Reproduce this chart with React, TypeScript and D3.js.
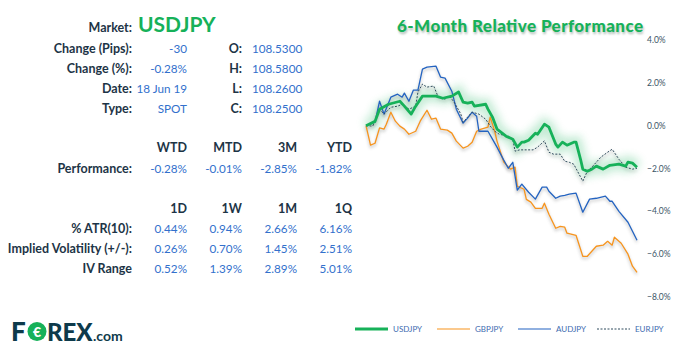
import React from "react";
import * as d3 from "d3";

// ---------- data ----------
const marketName = "USDJPY";
const infoLabels = ["Change (Pips):", "Change (%):", "Date:", "Type:"];
const infoValues = ["-30", "-0.28%", "18 Jun 19", "SPOT"];
const ohlcLabels = ["O:", "H:", "L:", "C:"];
const ohlcValues = ["108.5300", "108.5800", "108.2600", "108.2500"];

const perfHeaders = ["WTD", "MTD", "3M", "YTD"];
const perfValues = ["-0.28%", "-0.01%", "-2.85%", "-1.82%"];

const volHeaders = ["1D", "1W", "1M", "1Q"];
const volLabels = ["% ATR(10):", "Implied Volatility (+/-):", "IV Range"];
const atrValues = ["0.44%", "0.94%", "2.66%", "6.16%"];
const ivValues = ["0.26%", "0.70%", "1.45%", "2.51%"];
const ivRangeValues = ["0.52%", "1.39%", "2.89%", "5.01%"];

const yTicks = [4, 2, 0, -2, -4, -6, -8];
const seriesNames = ["USDJPY", "GBPJPY", "AUDJPY", "EURJPY"];

// [trading day index, % relative performance]
const usdjpy: [number, number][] = [
  [0, 0], [4, 0.2], [6, 0.77], [10, 1.0], [15, 1.14], [17, 0.91], [20, 0.54], [22, 0.91],
  [25, 1.38], [31, 1.38], [34, 1.28], [38, 1.38], [41, 1.57], [43, 1.1], [45, 1.05],
  [47, 1.1], [48, 0.91], [53, 1.0], [54, 0.77], [56, 0.4], [58, -0.16], [62, -0.49],
  [65, -0.63], [67, -1.0], [69, -0.77], [70, -0.77], [72, -0.68], [75, -0.35], [76, -0.4],
  [79, 0.07], [81, -0.07], [84, -0.86], [85, -1.0], [87, -0.77], [89, -0.91], [92, -0.77],
  [93, -0.77], [95, -1.57], [96, -2.03], [98, -2.13], [100, -2.03], [102, -1.89],
  [105, -2.03], [108, -1.85], [112, -1.8], [115, -1.89], [116, -1.7], [118, -1.75], [120, -1.94],
];
const gbpjpy: [number, number][] = [
  [0, 0], [2, -0.91], [4, -0.82], [6, -0.1], [8, -0.16], [9, 0.07], [11, 0.63], [13, 0.21],
  [15, -0.02], [17, -0.16], [19, -0.4], [22, -0.26], [24, 0.21], [27, 0.72], [29, 0.3],
  [31, 0.35], [33, -0.16], [36, -0.21], [38, -0.35], [40, -0.72], [43, -1.05], [45, -0.96],
  [47, -0.77], [49, -0.26], [51, -0.16], [54, -0.07], [55, 0.4], [57, -0.26], [58, -0.72],
  [61, -1.7], [64, -2.03], [66, -1.94], [67, -2.83], [70, -2.97], [71, -3.44], [73, -3.57],
  [75, -3.86], [78, -3.86], [79, -3.62], [81, -4.14], [84, -4.79], [86, -4.7], [88, -4.74],
  [89, -5.02], [93, -5.12], [96, -6.1], [98, -6.1], [102, -5.63], [105, -5.58], [107, -5.4],
  [109, -5.58], [110, -5.21], [113, -5.49], [116, -6.0], [118, -6.56], [120, -6.85],
];
const audjpy: [number, number][] = [
  [0, 0], [4, 0.16], [6, 1.14], [8, 0.54], [11, 1.33], [14, 1.47], [16, 1.33], [17, 1.52],
  [19, 1.14], [21, 1.66], [23, 1.66], [25, 2.64], [27, 2.73], [31, 2.78], [33, 2.27],
  [35, 2.22], [38, 1.61], [40, 0.77], [43, 0.12], [45, 0.35], [47, 0.63], [49, 0.44],
  [50, -0.26], [54, -0.26], [56, -0.63], [58, -1.0], [61, -1.61], [63, -1.99], [65, -1.71],
  [66, -2.36], [67, -3.01], [69, -2.73], [72, -3.11], [75, -3.43], [78, -2.87], [80, -2.87],
  [81, -3.06], [84, -3.39], [86, -3.29], [88, -3.25], [90, -3.2], [93, -3.15], [96, -4.04],
  [99, -3.43], [102, -3.39], [106, -3.29], [108, -3.53], [109, -3.53], [112, -4.0],
  [116, -4.51], [120, -5.35],
];
const eurjpy: [number, number][] = [
  [0, 0], [3, -0.02], [6, 0.77], [8, 0.54], [11, 0.86], [14, 0.91], [16, 1.0], [19, 0.77],
  [22, 0.91], [23, 1.57], [25, 1.94], [27, 1.8], [30, 1.85], [32, 1.33], [35, 1.24],
  [37, 1.38], [39, 1.1], [42, 0.54], [43, 0.16], [45, 0.4], [47, 0.63], [50, 0.54],
  [53, 0.3], [55, -0.02], [57, -0.26], [59, -0.4], [63, -0.49], [65, -0.63], [66, -1.19],
  [68, -1.13], [74, -1.13], [76, -1.0], [79, -0.71], [81, -1.24], [83, -1.33], [86, -1.33],
  [88, -1.66], [90, -1.71], [92, -1.8], [96, -2.59], [98, -2.13], [100, -1.94], [104, -1.47],
  [107, -1.24], [109, -1.1], [112, -1.57], [115, -1.94], [118, -2.03], [120, -1.99],
];

// ---------- styles ----------
const GREEN = "#16b159";
const ORANGE = "#f7941d";
const BLUE = "#2363c1";
const DASH = "#2f4b5c";
const LABEL = "#1d3446";
const VALUE = "#3270cc";
const FONT = "Lato, 'Open Sans', sans-serif";
const LABEL_SIZE = 12.5;
const VALUE_SIZE = 11.7;

export default function App() {
  const x = d3.scaleLinear().domain([0, 120]).range([366, 637]);
  const y = d3.scaleLinear().domain([-8, 4]).range([297, 40]);
  const line = d3
    .line<[number, number]>()
    .x((d) => x(d[0]))
    .y((d) => y(d[1]));

  const labelRight = 132;
  const infoRowsY = [53, 73, 93, 113];
  const colRights = [187, 242, 297, 352];

  const legendItems = [
    { name: seriesNames[0], color: GREEN, w: 3, dash: undefined as string | undefined, x0: 355 },
    { name: seriesNames[1], color: ORANGE, w: 1.2, dash: undefined, x0: 437 },
    { name: seriesNames[2], color: BLUE, w: 1.2, dash: undefined, x0: 518 },
    { name: seriesNames[3], color: DASH, w: 1, dash: "2,1.5", x0: 597 },
  ];

  return (
    <svg
      width={680}
      height={352}
      style={{ position: "absolute", left: 0, top: 0, background: "#fff" }}
      fontFamily={FONT}
    >
      <defs>
        <filter id="glow" x="-20%" y="-50%" width="140%" height="200%">
          <feGaussianBlur stdDeviation="4.5" />
        </filter>
        <filter id="shadow" x="-20%" y="-50%" width="140%" height="200%">
          <feGaussianBlur stdDeviation="1.6" />
        </filter>
        <filter id="tshadow" x="-10%" y="-50%" width="120%" height="200%">
          <feGaussianBlur stdDeviation="1" />
        </filter>
      </defs>
      <rect width={680} height={352} fill="#fff" />

      {/* Market */}
      <text x={labelRight} y={32} textAnchor="end" fontSize={LABEL_SIZE} fontWeight={700} fill={LABEL}>
        Market:
      </text>
      <text x={138} y={32} fontSize={21} fontWeight={700} fill={GREEN}>
        {marketName}
      </text>

      {infoLabels.map((l, i) => (
        <g key={l}>
          <text x={labelRight} y={infoRowsY[i]} textAnchor="end" fontSize={LABEL_SIZE} fontWeight={700} fill={LABEL}>
            {l}
          </text>
          <text x={187} y={infoRowsY[i]} textAnchor="end" fontSize={VALUE_SIZE} fill={VALUE}>
            {infoValues[i]}
          </text>
          <text x={242} y={infoRowsY[i]} textAnchor="end" fontSize={LABEL_SIZE} fontWeight={700} fill={LABEL}>
            {ohlcLabels[i]}
          </text>
          <text x={252} y={infoRowsY[i]} fontSize={VALUE_SIZE} fill={VALUE}>
            {ohlcValues[i]}
          </text>
        </g>
      ))}

      {/* Performance */}
      {perfHeaders.map((h, i) => (
        <text key={h} x={colRights[i]} y={152} textAnchor="end" fontSize={LABEL_SIZE} fontWeight={700} fill={LABEL}>
          {h}
        </text>
      ))}
      <text x={labelRight} y={173} textAnchor="end" fontSize={LABEL_SIZE} fontWeight={700} fill={LABEL}>
        Performance:
      </text>
      {perfValues.map((v, i) => (
        <text key={i} x={colRights[i]} y={173} textAnchor="end" fontSize={VALUE_SIZE} fill={VALUE}>
          {v}
        </text>
      ))}

      {/* Volatility */}
      {volHeaders.map((h, i) => (
        <text key={h} x={colRights[i]} y={213} textAnchor="end" fontSize={LABEL_SIZE} fontWeight={700} fill={LABEL}>
          {h}
        </text>
      ))}
      {[atrValues, ivValues, ivRangeValues].map((row, r) => (
        <g key={r}>
          <text x={labelRight} y={233 + r * 20} textAnchor="end" fontSize={LABEL_SIZE} fontWeight={700} fill={LABEL}>
            {volLabels[r]}
          </text>
          {row.map((v, i) => (
            <text key={i} x={colRights[i]} y={233 + r * 20} textAnchor="end" fontSize={VALUE_SIZE} fill={VALUE}>
              {v}
            </text>
          ))}
        </g>
      ))}

      {/* Title */}
      <text
        x={520}
        y={32}
        textAnchor="middle"
        fontSize={17}
        fontWeight={900}
        fill="#5a7a6a"
        opacity={0.5}
        filter="url(#tshadow)"
        textLength={246}
        lengthAdjust="spacing"
        transform="translate(1,1.5)"
      >
        6-Month Relative Performance
      </text>
      <text
        x={520}
        y={32}
        textAnchor="middle"
        fontSize={17}
        fontWeight={900}
        fill={GREEN}
        textLength={246}
        lengthAdjust="spacing"
      >
        6-Month Relative Performance
      </text>

      {/* Y axis labels */}
      {yTicks.map((t) => (
        <text key={t} x={647} y={y(t) + 3} fontSize={8.5} fill="#3b5566">
          {d3.format(".1f")(t) + "%"}
        </text>
      ))}

      {/* Lines: shadows */}
      <path d={line(usdjpy) || ""} fill="none" stroke={GREEN} strokeWidth={12} opacity={0.25} filter="url(#glow)" />
      <path d={line(gbpjpy) || ""} fill="none" stroke="#666" strokeWidth={2} opacity={0.3} filter="url(#shadow)" transform="translate(0,2)" />
      <path d={line(audjpy) || ""} fill="none" stroke="#666" strokeWidth={2} opacity={0.3} filter="url(#shadow)" transform="translate(0,2)" />
      <path d={line(eurjpy) || ""} fill="none" stroke="#666" strokeWidth={2} opacity={0.2} filter="url(#shadow)" transform="translate(0,2)" />

      <path d={line(gbpjpy) || ""} fill="none" stroke={ORANGE} strokeWidth={1.3} strokeLinejoin="round" />
      <path d={line(audjpy) || ""} fill="none" stroke={BLUE} strokeWidth={1.3} strokeLinejoin="round" />
      <path d={line(eurjpy) || ""} fill="none" stroke={DASH} strokeWidth={1} strokeDasharray="2,1.5" />
      <path d={line(usdjpy) || ""} fill="none" stroke={GREEN} strokeWidth={2.8} strokeLinejoin="round" />

      {/* Legend */}
      {legendItems.map((it) => (
        <g key={it.name}>
          <line
            x1={it.x0}
            x2={it.x0 + 33}
            y1={329}
            y2={329}
            stroke={it.color}
            strokeWidth={it.w}
            strokeDasharray={it.dash}
          />
          <text x={it.x0 + 38} y={332} fontSize={8} fill="#3d6bb0">
            {it.name}
          </text>
        </g>
      ))}

      {/* Logo */}
      <g fontFamily="Lato, 'DejaVu Sans', sans-serif" fontWeight={900} fill="#0e3a4b">
        <text x={11} y={341} fontSize={26}>F</text>
        <circle cx={37} cy={331.5} r={9.5} fill={GREEN} />
        <text x={37} y={336.5} fontSize={14} fill="#fff" textAnchor="middle" fontWeight={900}>€</text>
        <text x={47} y={341} fontSize={24}>REX</text>
        <text x={93} y={341} fontSize={14} fontWeight={700}>.com</text>
      </g>
    </svg>
  );
}
